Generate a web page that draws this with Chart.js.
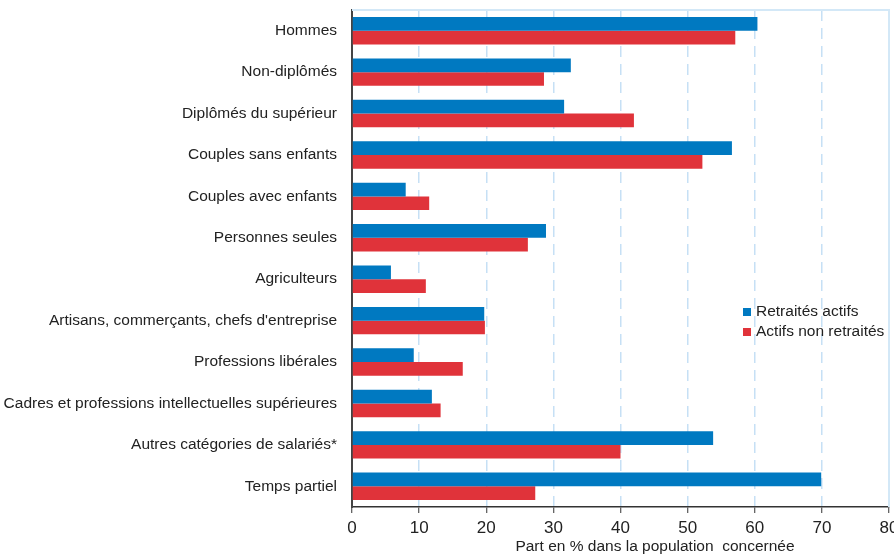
<!DOCTYPE html>
<html>
<head>
<meta charset="utf-8">
<script src="https://cdn.jsdelivr.net/npm/chart.js@4/dist/chart.umd.min.js"></script>
<style>
  html, body { margin: 0; padding: 0; background: #fff; }
  #wrap { width: 894px; height: 554px; position: relative; }
</style>
</head>
<body>
<div id="wrap"><canvas id="bar-chart"></canvas></div>
<script>
// categories and values (share in %)
const categories = [
  "Hommes",
  "Non-diplômés",
  "Diplômés du supérieur",
  "Couples sans enfants",
  "Couples avec enfants",
  "Personnes seules",
  "Agriculteurs",
  "Artisans, commerçants, chefs d'entreprise",
  "Professions libérales",
  "Cadres et professions intellectuelles supérieures",
  "Autres catégories de salariés*",
  "Temps partiel"
];
const retraitesActifs = [60.4, 32.6, 31.6, 56.6, 8.0, 28.9, 5.8, 19.7, 9.2, 11.9, 53.8, 69.9];
const actifsNonRetraites = [57.1, 28.6, 42.0, 52.2, 11.5, 26.2, 11.0, 19.8, 16.5, 13.2, 40.0, 27.3];
const xTicks = [0, 10, 20, 30, 40, 50, 60, 70, 80];
const xTitle = "Part en % dans la population  concernée";

const FONT = "'Liberation Sans', Arial, sans-serif";
const BLUE = "#0079c1";
const RED = "#e0333a";
const GRID = "#c6e0f5";

// frame on top / right, legend and axis title drawn over the chart
const extras = {
  id: "extras",
  afterDraw(chart) {
    const { ctx, chartArea: a } = chart;
    ctx.save();
    ctx.strokeStyle = "#d3e8f7";
    ctx.lineWidth = 2;
    ctx.beginPath();
    ctx.moveTo(a.left, a.top);
    ctx.lineTo(a.right, a.top);
    ctx.lineTo(a.right, a.bottom);
    ctx.stroke();

    // legend
    ctx.font = "15.5px " + FONT;
    ctx.textBaseline = "middle";
    chart.data.datasets.forEach((ds, i) => {
      const y = 312 + i * 20;
      ctx.fillStyle = ds.backgroundColor;
      ctx.fillRect(743, y - 4, 8, 8);
      ctx.fillStyle = "#222";
      ctx.fillText(ds.label, 756, y);
    });

    // axis title
    ctx.font = "15.5px " + FONT;
    ctx.textAlign = "center";
    ctx.fillText(xTitle, 655, 547);
    ctx.restore();
  }
};

new Chart(document.getElementById("bar-chart"), {
  type: "bar",
  data: {
    labels: categories,
    datasets: [
      { label: "Retraités actifs", data: retraitesActifs, backgroundColor: BLUE },
      { label: "Actifs non retraités", data: actifsNonRetraites, backgroundColor: RED }
    ]
  },
  options: {
    indexAxis: "y",
    responsive: true,
    maintainAspectRatio: false,
    animation: false,
    categoryPercentage: 0.66,
    barPercentage: 1.0,
    layout: { padding: { top: 10, right: 5, left: 0, bottom: 0 } },
    plugins: {
      legend: { display: false },
      tooltip: { enabled: false }
    },
    scales: {
      x: {
        min: 0,
        max: 80,
        afterBuildTicks: (s) => { s.ticks = xTicks.map((v) => ({ value: v })); },
        afterFit: (s) => { s.height = 47; s.paddingLeft = 0; s.paddingRight = 0; },
        ticks: { font: { family: FONT, size: 17 }, color: "#222", padding: 5, maxRotation: 0 },
        grid: { color: GRID, lineWidth: 1.5, tickColor: "#333", tickLength: 6, tickWidth: 1 },
        border: { display: true, color: "#333", width: 1.5, dash: [11, 7] }
      },
      y: {
        afterFit: (s) => { s.width = 352; s.paddingTop = 0; s.paddingBottom = 0; },
        ticks: { font: { family: FONT, size: 15.5 }, color: "#222", padding: 7 },
        grid: { display: false },
        border: { display: true, color: "#444", width: 2 }
      }
    }
  },
  plugins: [extras]
});
</script>
</body>
</html>
